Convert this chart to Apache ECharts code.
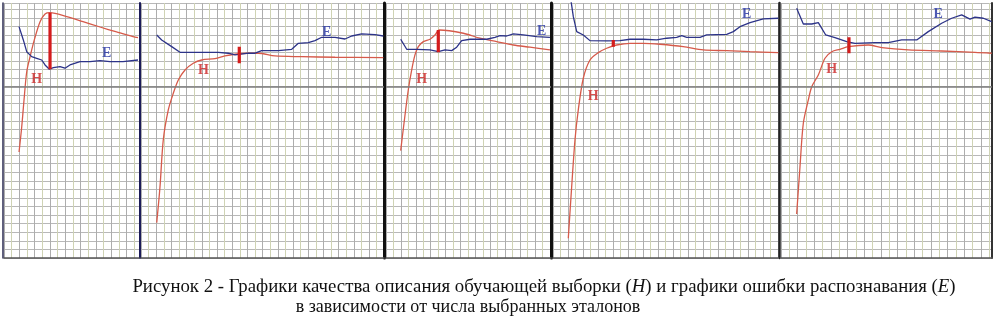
<!DOCTYPE html>
<html><head><meta charset="utf-8">
<script src="https://cdn.jsdelivr.net/npm/echarts@6/dist/echarts.min.js"></script>
<style>html,body{margin:0;padding:0;background:#fff}#c{width:995px;height:321px}</style>
</head><body><div id="c"></div>
<script>
// ---- data (x = step index in grid columns, y = value in grid rows) ----
const p1H = [[1.96,12.37],[2.31,15.29],[2.61,18.44],[2.96,21.70],[3.39,23.45],[3.95,25.44],[4.69,27.54],[5.35,28.47],[6.0,28.62],[8.17,28.16],[10.30,27.57],[12.52,26.95],[14.69,26.37],[16.82,25.82],[17.47,25.71]];
const p1E = [[1.96,26.99],[2.52,25.44],[2.96,24.07],[3.61,23.49],[4.26,23.30],[4.92,23.10],[5.35,22.52],[5.91,22.02],[6.43,22.21],[7.30,22.32],[7.95,22.14],[8.60,22.52],[9.91,22.91],[11.21,22.91],[12.52,23.02],[13.82,22.91],[15.51,22.91],[17.47,23.10]];
const p1Mark = [[6.0,28.62],[6.0,22.02]];
const p1Lab = {H:[4.26,20.89], E:[13.39,23.92]};

const p2H = [[2.07,4.12],[2.50,8.32],[2.93,13.77],[3.59,17.27],[4.25,19.22],[4.91,20.77],[5.79,21.94],[6.88,22.72],[7.99,23.10],[9.74,23.26],[11.05,23.57],[12.37,23.77],[14.12,23.89],[15.43,23.89],[17.63,23.57],[21.14,23.49],[25.53,23.42],[31.88,23.37]];
const p2E = [[2.07,26.02],[2.72,25.44],[4.04,24.66],[5.13,24.00],[7.11,24.00],[10.17,24.00],[11.49,23.89],[12.37,23.69],[14.12,23.89],[15.0,23.89],[15.88,24.19],[18.07,24.19],[19.83,24.35],[20.70,25.05],[22.01,25.12],[22.89,25.36],[23.78,25.75],[25.53,25.75],[26.84,25.55],[27.72,25.90],[29.04,26.14],[30.79,26.06],[31.88,25.90]];
const p2Mark = [[12.93,24.66],[12.93,22.72]];
const p2Lab = {H:[8.20,21.86], E:[24.43,26.34]};

const p3H = [[1.97,12.52],[2.42,15.75],[2.99,19.60],[3.45,21.94],[3.89,23.69],[4.34,24.66],[5.01,25.24],[5.91,25.52],[6.58,26.02],[7.15,26.60],[10.38,26.22],[12.62,25.64],[14.86,25.24],[17.09,24.85],[19.33,24.59],[22.01,24.27]];
const p3E = [[1.97,25.52],[2.78,24.35],[4.12,24.35],[5.91,24.27],[7.02,24.07],[7.92,24.27],[8.82,24.19],[9.49,24.59],[10.16,25.36],[11.28,25.52],[13.52,25.52],[14.63,25.75],[15.30,25.94],[16.20,25.90],[17.09,26.14],[18.43,26.02],[20.23,25.82],[22.01,25.75]];
const p3Mark = [[7.02,26.60],[7.02,24.0]];
const p3Lab = {H:[4.79,20.85], E:[20.90,26.41]};

const p4H = [[2.04,2.30],[2.49,8.32],[2.93,13.77],[3.37,17.27],[4.04,20.97],[4.93,23.10],[6.04,23.96],[7.16,24.47],[8.49,24.85],[10.27,25.05],[12.04,25.05],[14.27,24.94],[17.37,24.66],[20.04,24.27],[23.16,24.19],[26.27,24.07],[30.04,23.96]];
const p4E = [[2.30,30.6],[2.71,28.16],[3.16,26.41],[4.04,26.02],[4.93,25.36],[7.16,25.32],[8.93,25.36],[10.27,25.52],[12.04,25.52],[13.83,25.44],[15.16,25.64],[16.49,25.75],[17.16,25.94],[17.83,25.75],[19.6,25.75],[20.49,26.02],[23.16,26.10],[24.04,26.41],[24.93,26.99],[26.27,27.46],[28.04,27.89],[30.04,27.97]];
const p4Mark = [[8.04,25.44],[8.04,24.66]];
const p4Lab = {H:[5.37,18.90], E:[25.83,28.47]};

const p5H = [[1.88,5.13],[2.28,10.65],[2.68,15.72],[3.28,18.44],[3.69,19.99],[4.48,21.35],[5.28,23.30],[6.09,24.07],[7.08,24.35],[8.08,24.66],[10.48,24.85],[12.09,24.54],[15.28,24.27],[19.29,24.15],[23.29,24.00],[25.29,23.89]];
const p5E = [[1.88,29.14],[2.68,27.30],[3.69,27.30],[4.48,27.46],[5.37,26.02],[6.48,25.71],[7.89,25.24],[8.88,25.05],[11.28,25.12],[12.88,25.12],[14.49,25.44],[16.29,25.44],[17.68,26.41],[19.29,27.39],[20.49,27.97],[21.69,28.36],[22.69,27.86],[23.29,28.09],[24.29,27.97],[25.29,27.57]];
const p5Mark = [[8.16,25.75],[8.16,23.89]];
const p5Lab = {H:[6.09,22.02], E:[18.88,28.47]};

const refLevel = 20;
const captionLine1 = ['Рисунок 2 - Графики качества описания обучающей выборки (', 'H', ') и графики ошибки распознавания (', 'E', ')'];
const captionLine2 = 'в зависимости от числа выбранных эталонов';

// ---- layout ----
const panels = [
  {left:4,   width:135, xmax:17.6,  H:p1H, E:p1E, M:p1Mark, L:p1Lab, sepColor:'#2a2a50', sepW:1.5, off:1},
  {left:141, width:243, xmax:31.97, H:p2H, E:p2E, M:p2Mark, L:p2Lab, sepColor:'#1c1c58', sepW:2,   off:1},
  {left:386, width:165, xmax:22.15, H:p3H, E:p3E, M:p3Mark, L:p3Lab, sepColor:'#111111', sepW:3,   off:2},
  {left:553, width:225, xmax:30,    H:p4H, E:p4E, M:p4Mark, L:p4Lab, sepColor:'#111111', sepW:3,   off:2},
  {left:781, width:211, xmax:25.33, H:p5H, E:p5E, M:p5Mark, L:p5Lab, sepColor:'#222222', sepW:2.5, off:2}
];
const TOP = 3, HEIGHT = 255, YMAX = 29.75;
const hColor = '#d65a4a', eColor = '#2c3388', markColor = '#d41c1c';
const gridCol = '#b8b8b8';

const grid = [], xAxis = [], yAxis = [], series = [];
panels.forEach((p, i) => {
  grid.push({left:p.left, top:TOP, width:p.width, height:HEIGHT, show:false});
  xAxis.push({gridIndex:i, type:'value', min:0, max:p.xmax, interval:1,
    axisLine:{show:true, onZero:false, lineStyle:{color:'#555', width:1.5}},
    axisTick:{show:false}, axisLabel:{show:false},
    splitLine:{show:true, lineStyle:{color:['#adadad','#cfd3b4'], width:1}}});
  yAxis.push({gridIndex:i, type:'value', min:0, max:YMAX, interval:1, offset:p.off,
    axisLine:{show:true, onZero:false, lineStyle:{color:p.sepColor, width:p.sepW}},
    axisTick:{show:false}, axisLabel:{show:false},
    splitLine:{show:true, lineStyle:{color:gridCol, width:1}}});
});
// right border of last panel
yAxis.push({gridIndex:4, type:'value', min:0, max:YMAX, position:'right', offset:0,
  axisLine:{show:true, onZero:false, lineStyle:{color:'#333', width:2}},
  axisTick:{show:false}, axisLabel:{show:false}, splitLine:{show:false}});

panels.forEach((p, i) => {
  series.push({type:'line', xAxisIndex:i, yAxisIndex:i, data:p.H, symbol:'none', smooth:0.3,
    lineStyle:{color:hColor, width:1.3}, z:3, clip:true,
    markLine:{silent:true, symbol:'none', label:{show:false},
      lineStyle:{color:'#7c7c7c', width:1.6, type:'solid'}, data:[{yAxis:refLevel}]}});
  series.push({type:'line', xAxisIndex:i, yAxisIndex:i, data:p.E, symbol:'none',
    lineStyle:{color:eColor, width:1.3}, z:3, clip:true});
  series.push({type:'line', xAxisIndex:i, yAxisIndex:i, data:p.M, symbol:'none',
    lineStyle:{color:markColor, width:3.2}, z:4});
  series.push({type:'scatter', xAxisIndex:i, yAxisIndex:i, symbolSize:1,
    itemStyle:{color:'rgba(0,0,0,0)'}, z:5,
    data:[{value:p.L.H, label:{formatter:'H', color:'#cc2424'}},
          {value:p.L.E, label:{formatter:'E', color:'#2030a0'}}],
    label:{show:true, position:'inside', fontFamily:'Liberation Serif', fontWeight:'bold', fontSize:14}});
});

const chart = echarts.init(document.getElementById('c'), null, {renderer:'canvas'});
chart.setOption({
  animation:false, backgroundColor:'#fff',
  grid, xAxis, yAxis, series,
  graphic:[
    {type:'text', x:544, y:287, style:{
      text:'{n|'+captionLine1[0]+'}{i|'+captionLine1[1]+'}{n|'+captionLine1[2]+'}{i|'+captionLine1[3]+'}{n|'+captionLine1[4]+'}',
      align:'center', verticalAlign:'middle',
      rich:{n:{fontFamily:'Liberation Serif', fontSize:18.8, fill:'#111'},
            i:{fontFamily:'Liberation Serif', fontSize:18.8, fontStyle:'italic', fill:'#111'}}}},
    {type:'text', x:468, y:307, style:{text:captionLine2, align:'center', verticalAlign:'middle',
      fontFamily:'Liberation Serif', fontSize:18, fill:'#111'}}
  ]
});
</script></body></html>
